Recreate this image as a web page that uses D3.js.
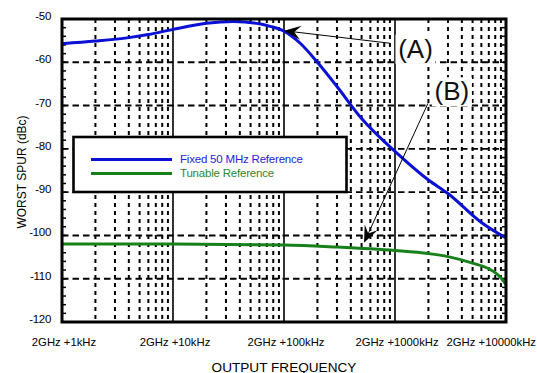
<!DOCTYPE html>
<html><head><meta charset="utf-8">
<script src="https://cdn.jsdelivr.net/npm/d3@7"></script>
<style>
html,body{margin:0;padding:0;background:#fff;}
svg{display:block;font-family:"Liberation Sans",Arial,Helvetica,sans-serif;}
</style></head>
<body><svg id="c" width="537" height="373"></svg>
<script>
// ---- data ----
const fixedFreqs = [1, 2, 4, 6, 10, 20, 35, 60, 75, 100, 140, 200, 300, 500, 1000, 2000, 3000, 6000, 10000];
const fixedValues = [-55.7, -55.1, -54.3, -53.6, -52.4, -51.0, -50.6, -51.1, -51.7, -52.8, -55.6, -60.0, -65.6, -73.0, -80.6, -87.2, -90.3, -97.0, -100.6];
const tunableFreqs = [1, 10, 100, 300, 1000, 2000, 3000, 5000, 7000, 8000, 9000, 10000];
const tunableValues = [-102.0, -102.0, -102.2, -102.7, -103.5, -104.2, -104.9, -106.4, -107.7, -108.6, -109.8, -111.4];
const seriesNames = ["Fixed 50 MHz Reference", "Tunable Reference"];
const xTickValues = [1, 10, 100, 1000, 10000];
const xTickLabels = ["2GHz +1kHz", "2GHz +10kHz", "2GHz +100kHz", "2GHz +1000kHz", "2GHz +10000kHz"];
const yTickValues = [-50, -60, -70, -80, -90, -100, -110, -120];
const xTitle = "OUTPUT FREQUENCY";
const yTitle = "WORST SPUR (dBc)";
const annotations = [
  {label: "(A)", lx: 1530, ly: -56.9, sx: 900, sy: -55.6, tx: 100, ty: -52.7},
  {label: "(B)", lx: 3250, ly: -66.7, sx: 1980, sy: -69.5, tx: 526, ty: -101.7}
];

// ---- layout ----
const L = 62, R = 506, T = 19, B = 322, W_SVG = 537;
const svg = d3.select("#c");
const x = d3.scaleLog().domain([1, 10000]).range([L, R]);
const y = d3.scaleLinear().domain([-120, -50]).range([B, T]);
const blue = "#0a10d4", green = "#17801a";

const g = svg.append("g");

// minor vertical dotted grid
const minor = [];
for (let d = 1; d < 10000; d *= 10) for (let k = 2; k <= 9; k++) minor.push(k * d);
g.selectAll(".vmin").data(minor).enter().append("line")
  .attr("x1", d => x(d)).attr("x2", d => x(d)).attr("y1", T).attr("y2", B)
  .attr("stroke", "#000").attr("stroke-width", 2).attr("stroke-dasharray", "4,4");
// major vertical solid lines
g.selectAll(".vmaj").data(xTickValues.slice(1, -1)).enter().append("line")
  .attr("x1", d => x(d)).attr("x2", d => x(d)).attr("y1", T).attr("y2", B)
  .attr("stroke", "#000").attr("stroke-width", 1.6);
// horizontal dashed grid
g.selectAll(".hmaj").data(yTickValues.slice(1, -1)).enter().append("line")
  .attr("x1", L).attr("x2", R).attr("y1", d => y(d)).attr("y2", d => y(d))
  .attr("stroke", "#000").attr("stroke-width", 1.9).attr("stroke-dasharray", "6.5,4");
// minor y ticks (every 2 dB) on both borders
const yMinor = d3.range(-118, -50, 2);
g.selectAll(".ytl").data(yMinor).enter().append("line")
  .attr("x1", L).attr("x2", L + 4).attr("y1", d => y(d)).attr("y2", d => y(d))
  .attr("stroke", "#000").attr("stroke-width", 1.5);
g.selectAll(".ytr").data(yMinor).enter().append("line")
  .attr("x1", R - 4).attr("x2", R).attr("y1", d => y(d)).attr("y2", d => y(d))
  .attr("stroke", "#000").attr("stroke-width", 1.5);

// curves
const line = d3.line().x(d => x(d[0])).y(d => y(d[1])).curve(d3.curveMonotoneX);
svg.append("path").datum(d3.zip(tunableFreqs, tunableValues)).attr("d", line)
  .attr("fill", "none").attr("stroke", green).attr("stroke-width", 3);
svg.append("path").datum(d3.zip(fixedFreqs, fixedValues)).attr("d", line)
  .attr("fill", "none").attr("stroke", blue).attr("stroke-width", 3);

// legend
const lg = svg.append("g");
lg.append("rect").attr("x", 73.5).attr("y", 137).attr("width", 273).attr("height", 55)
  .attr("fill", "#fff").attr("stroke", "#000").attr("stroke-width", 2.6);
[blue, green].forEach((c, i) => {
  const yy = 159.5 + i * 14;
  lg.append("line").attr("x1", 91).attr("x2", 172).attr("y1", yy).attr("y2", yy)
    .attr("stroke", c).attr("stroke-width", 3);
  lg.append("text").attr("x", 180).attr("y", yy + 3.8).text(seriesNames[i])
    .attr("font-size", "11.5px").attr("letter-spacing", "-0.2px")
    .attr("fill", i === 0 ? "#2424d8" : "#2b8a2b");
});

// frame
svg.append("rect").attr("x", L).attr("y", T).attr("width", R - L).attr("height", B - T)
  .attr("fill", "none").attr("stroke", "#000").attr("stroke-width", 3);

// annotations
annotations.forEach(a => {
  const sx = x(a.sx), sy = y(a.sy), tx = x(a.tx), ty = y(a.ty);
  const dx = tx - sx, dy = ty - sy, len = Math.hypot(dx, dy);
  const ux = dx / len, uy = dy / len, nx = -uy, ny = ux;
  const Lh = 17, W = 7;
  svg.append("line").attr("x1", sx).attr("y1", sy).attr("x2", tx - ux * 8).attr("y2", ty - uy * 8)
    .attr("stroke", "#000").attr("stroke-width", 1);
  const pts = [[tx, ty], [tx - Lh * ux + W * nx, ty - Lh * uy + W * ny],
               [tx - 0.6 * Lh * ux, ty - 0.6 * Lh * uy], [tx - Lh * ux - W * nx, ty - Lh * uy - W * ny]];
  svg.append("path").attr("d", "M" + pts.map(p => p.join(",")).join("L") + "Z").attr("fill", "#000");
  const lx = x(a.lx), ly = y(a.ly);
  svg.append("rect").attr("x", lx - 20).attr("y", ly - 14).attr("width", 40).attr("height", 29).attr("fill", "#fff");
  svg.append("text").attr("x", lx).attr("y", ly + 9).attr("text-anchor", "middle")
    .attr("font-size", "26px").attr("fill", "#111").text(a.label);
});

// y tick labels
svg.selectAll(".ylab").data(yTickValues).enter().append("text")
  .attr("x", 51).attr("y", d => y(d) + 1).attr("text-anchor", "end")
  .attr("font-size", "11.5px").attr("letter-spacing", "-0.3px").text(d => d);
// x tick labels (last one kept inside the page)
svg.selectAll(".xlab").data(xTickValues).enter().append("text")
  .attr("x", (d, i) => i === xTickValues.length - 1 ? W_SVG - 1 : x(d) + 2)
  .attr("y", 345.5)
  .attr("text-anchor", (d, i) => i === xTickValues.length - 1 ? "end" : "middle")
  .attr("font-size", "11.3px").text((d, i) => xTickLabels[i]);
// titles
svg.append("text").attr("x", (L + R) / 2).attr("y", 371.5).attr("text-anchor", "middle")
  .attr("font-size", "13.6px").text(xTitle);
svg.append("text").attr("transform", "translate(26,172) rotate(-90)").attr("text-anchor", "middle")
  .attr("font-size", "12px").text(yTitle);
</script></body></html>
